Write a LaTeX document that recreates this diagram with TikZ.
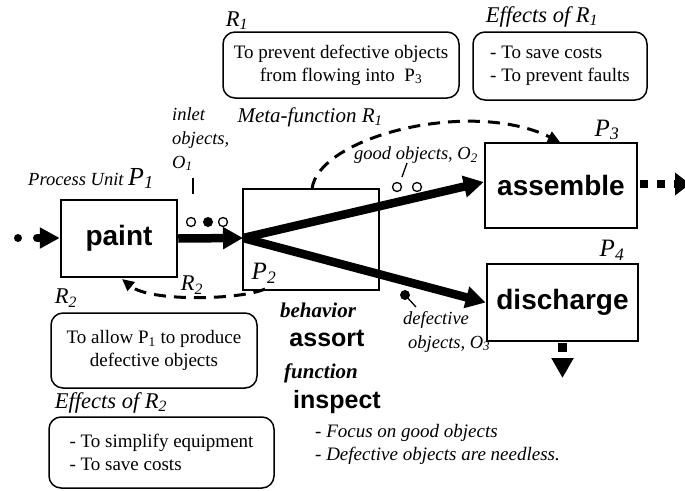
\documentclass[tikz,border=0pt]{standalone}
\usepackage{fontspec}
\setmainfont{Liberation Serif}
\setsansfont{Liberation Sans}
\usetikzlibrary{arrows.meta}
\newcommand{\fsz}[2]{\fontsize{#1}{#2}\selectfont}
\newcommand{\sbs}[1]{\textsubscript{#1}}
\tikzset{
  procbox/.style={draw, line width=2.5pt, inner sep=0pt, font=\sffamily\bfseries\fsz{28}{30}},
  notebox/.style={draw, line width=1.5pt, rounded corners=12pt, inner sep=0pt, font=\fsz{19}{23}},
  bigarrow/.style={line width=8.5pt, -{Triangle[length=20pt,width=21pt]}},
  dasharrow/.style={line width=3pt, dash pattern=on 12pt off 8pt, -{Triangle[length=12pt,width=11pt]}},
  lbl/.style={inner sep=0pt, font=\itshape\fsz{18.5}{24}},
  biglbl/.style={inner sep=0pt, font=\itshape\fsz{22.5}{24}},
  plbl/.style={inner sep=0pt, font=\itshape\fsz{25}{28}},
  bilbl/.style={inner sep=0pt, font=\bfseries\itshape\fsz{21}{24}},
  sflbl/.style={inner sep=0pt, font=\sffamily\bfseries\fsz{25}{28}},
  objcirc/.style={draw, line width=1.3pt, circle, inner sep=0pt, minimum size=9pt},
  objdot/.style={fill, circle, inner sep=0pt, minimum size=10pt},
  tick/.style={line width=1.3pt},
  flowbit/.style={line width=8pt},
}
\begin{document}
\begin{tikzpicture}[x=1pt,y=-1pt]
\useasboundingbox (0,0) rectangle (685,490);

% process boxes
\node[procbox, minimum width=116pt, minimum height=77pt] (paint) at (119,238.5) {paint};
\node[draw, line width=2.5pt, inner sep=0pt, minimum width=136pt, minimum height=101pt] (p2) at (311,239.5) {};
\node[procbox, minimum width=152pt, minimum height=85pt] (assemble) at (561,185.5) {assemble};
\node[procbox, minimum width=151pt, minimum height=77pt] (discharge) at (562.5,302.5) {discharge};

% rounded note boxes
\node[notebox, minimum width=236pt, minimum height=66pt, align=center] (r1box) at (341,65)
  {To prevent defective objects\\from flowing into~ P\sbs{3}};
\node[notebox, minimum width=174pt, minimum height=68pt, align=left] (e1box) at (560,66)
  {- To save costs\\- To prevent faults};
\node[notebox, minimum width=206pt, minimum height=75pt, align=center] (r2box) at (154,350.5)
  {To allow P\sbs{1} to produce\\defective objects};
\node[notebox, minimum width=225pt, minimum height=71pt, align=left] (e2box) at (161.5,452.5)
  {- To simplify equipment\\- To save costs};

% labels
\node[biglbl] (r1lbl) at (237,21) {R\sbs{1}};
\node[biglbl] (e1lbl) at (542,17) {Effects of R\sbs{1}};
\node[inner sep=0pt, font=\itshape\fsz{21}{24}] (metalbl) at (310,117) {Meta-function R\sbs{1}};
\node[biglbl] (e2lbl) at (111,403) {Effects of R\sbs{2}};
\node[biglbl] (r2lbl) at (66,298) {R\sbs{2}};
\node[biglbl] (r2clbl) at (192,285) {R\sbs{2}};
\node[plbl] (p2lbl) at (264,273) {P\sbs{2}};
\node[plbl] (p3lbl) at (607,130) {P\sbs{3}};
\node[plbl] (p4lbl) at (612,250) {P\sbs{4}};
\node[anchor=base west, inner sep=0pt, font=\itshape\fsz{18.5}{24}] (p1lbl) at (28,185)
  {Process Unit {\fsz{26}{28}P\sbs{1}}};
\node[lbl, anchor=north west, align=left] (inlet) at (172,107) {inlet\\objects,\\O\sbs{1}};
\node[lbl] (goodlbl) at (416,155) {good objects, O\sbs{2}};
\node[lbl, anchor=north west, align=left] (deflbl) at (403,311) {defective\\\hspace*{5pt}objects, O\sbs{3}};
\node[bilbl] (behav) at (318,310) {behavior};
\node[sflbl] (assort) at (327,338) {assort};
\node[bilbl] (func) at (321,373) {function};
\node[sflbl] (inspect) at (337,402) {inspect};
\node[inner sep=0pt, anchor=north west, align=left, font=\itshape\fsz{19}{23}] (focus) at (315,424)
  {- Focus on good objects\\- Defective objects are needless.};

% objects
\node[objcirc] (o1a) at (191,222) {};
\node[objdot]  (o1b) at (208,222) {};
\node[objcirc] (o1c) at (223,222) {};
\node[objcirc] (o2a) at (397,187) {};
\node[objcirc] (o2b) at (417,187) {};
\node[objdot]  (o3)  at (405,295) {};

% leader ticks
\coordinate (t1a) at (193,178); \coordinate (t1b) at (193,194);
\draw[tick] (t1a) -- (t1b);
\coordinate (t2a) at (407,163); \coordinate (t2b) at (402,177);
\draw[tick] (t2a) -- (t2b);
\coordinate (t3) at (416,307);
\draw[tick] (o3.center) -- (t3);

% main flow
\coordinate (j) at (243,238);
\draw[bigarrow] (paint.east) -- (j);
\draw[bigarrow] (j) -- ([yshift=3.5pt]assemble.west);
\draw[bigarrow] (j) -- (discharge.west);

% input flow
\coordinate (indot) at (18,238);
\fill (indot) circle (4pt);
\coordinate (in) at (37,238);
\draw[line width=8pt, line cap=round, -{Triangle[length=20pt,width=20pt]}] (in) -- (paint.west |- in);

% output flows
\coordinate (outA) at (690,184);
\draw[flowbit, dash pattern=on 8pt off 9pt, -{Triangle[length=15pt,width=22pt]}]
  ([xshift=2pt]assemble.east |- outA) -- (outA);
\coordinate (outD) at (562.5,378);
\draw[line width=9pt, dash pattern=on 9pt off 20pt, -{Triangle[length=20pt,width=21pt]}]
  ([yshift=-1pt]discharge.south -| outD) -- (outD);

% meta-function dashed curves
\coordinate (m1s) at (312,189);
\coordinate (m1e) at (560,142);
\draw[dasharrow] (m1s) .. controls (318,137) and (470,98) .. (m1e);
\coordinate (m2s) at (265,289);
\coordinate (m2e) at (122,279);
\draw[dasharrow] (m2s) .. controls (240,300) and (150,302) .. (m2e);
\end{tikzpicture}
\end{document}
